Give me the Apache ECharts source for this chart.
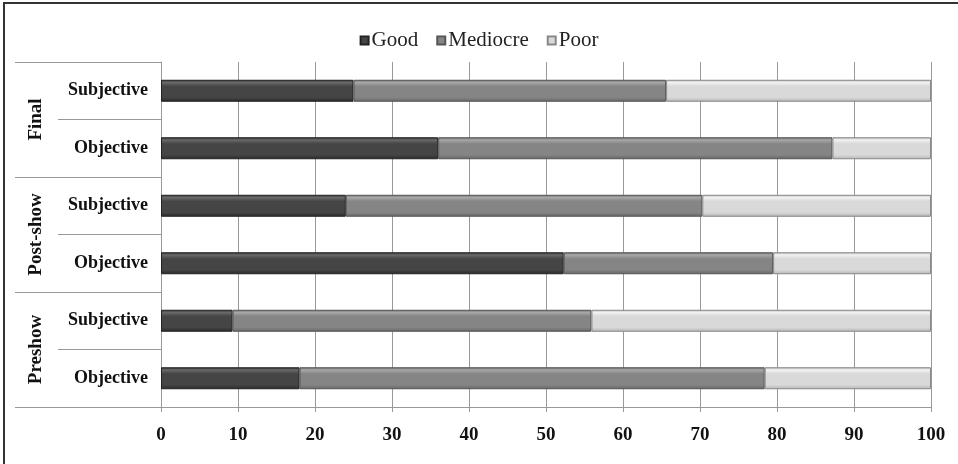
<!DOCTYPE html>
<html>
<head>
<meta charset="utf-8">
<script src="https://cdn.jsdelivr.net/npm/echarts@6/dist/echarts.min.js"></script>
<style>html,body{margin:0;padding:0;background:#fff;}#c{width:958px;height:464px;}</style>
</head>
<body>
<div id="c"></div>
<script>
const categories = ['Subjective', 'Objective', 'Subjective', 'Objective', 'Subjective', 'Objective'];
const groups = ['Final', 'Post-show', 'Preshow'];
const seriesNames = ['Good', 'Mediocre', 'Poor'];
const good = [25, 36, 24, 52.3, 9.3, 18];
const mediocre = [40.6, 51.2, 46.3, 27.2, 46.6, 60.4];
const poor = [34.4, 12.8, 29.7, 20.5, 44.1, 21.6];
const xTicks = [0, 10, 20, 30, 40, 50, 60, 70, 80, 90, 100];

const font = 'Liberation Serif, Times New Roman, serif';
function grad(top, mid, bot) {
  return new echarts.graphic.LinearGradient(0, 0, 0, 1, [
    {offset: 0, color: bot}, {offset: 0.12, color: top}, {offset: 0.3, color: mid},
    {offset: 0.8, color: mid}, {offset: 1, color: bot}
  ]);
}
const styles = [
  {color: grad('#6a6a6a', '#454545', '#2a2a2a'), borderColor: '#222'},
  {color: grad('#a8a8a8', '#858585', '#666'), borderColor: '#555'},
  {color: grad('#f2f2f2', '#d9d9d9', '#b5b5b5'), borderColor: '#888'}
];
const values = [good, mediocre, poor];

const chart = echarts.init(document.getElementById('c'));
chart.setOption({
  animation: false,
  graphic: [{type: 'rect', shape: {x: 4, y: 3, width: 1000, height: 500}, style: {fill: 'none', stroke: '#333', lineWidth: 2}, silent: true}],
  legend: {
    top: 25, left: 'center', itemWidth: 8, itemHeight: 8, itemGap: 18,
    icon: 'rect',
    textStyle: {fontFamily: font, fontSize: 21, color: '#222', padding: [0, 0, 0, -2]},
    data: seriesNames
  },
  grid: {left: 161, right: 27, top: 62, bottom: 57},
  xAxis: {
    type: 'value', min: 0, max: 100, interval: 10,
    axisLine: {show: true, lineStyle: {color: '#999'}},
    axisTick: {show: true, length: 5, lineStyle: {color: '#999'}},
    splitLine: {show: true, lineStyle: {color: '#999'}},
    axisLabel: {fontFamily: font, fontWeight: 'bold', fontSize: 19, color: '#111', margin: 19,
      formatter: v => xTicks.includes(v) ? String(v) : ''}
  },
  yAxis: [{
    type: 'category', data: categories, inverse: true,
    axisLine: {show: true, lineStyle: {color: '#999'}},
    axisTick: {show: true, length: 103, lineStyle: {color: '#999'}},
    axisLabel: {fontFamily: font, fontWeight: 'bold', fontSize: 18, color: '#111', margin: 13}
  }, {
    type: 'category', data: groups, inverse: true, position: 'left', offset: 103,
    axisLine: {show: false},
    axisTick: {show: true, length: 43, lineStyle: {color: '#999'}},
    axisLabel: {fontFamily: font, fontWeight: 'bold', fontSize: 19, color: '#111', rotate: 90, margin: 12}
  }],
  series: seriesNames.map((n, i) => ({
    name: n, type: 'bar', stack: 'total', yAxisIndex: 0, barWidth: 22,
    itemStyle: Object.assign({borderWidth: 1}, styles[i]),
    data: values[i]
  }))
});
</script>
</body>
</html>
